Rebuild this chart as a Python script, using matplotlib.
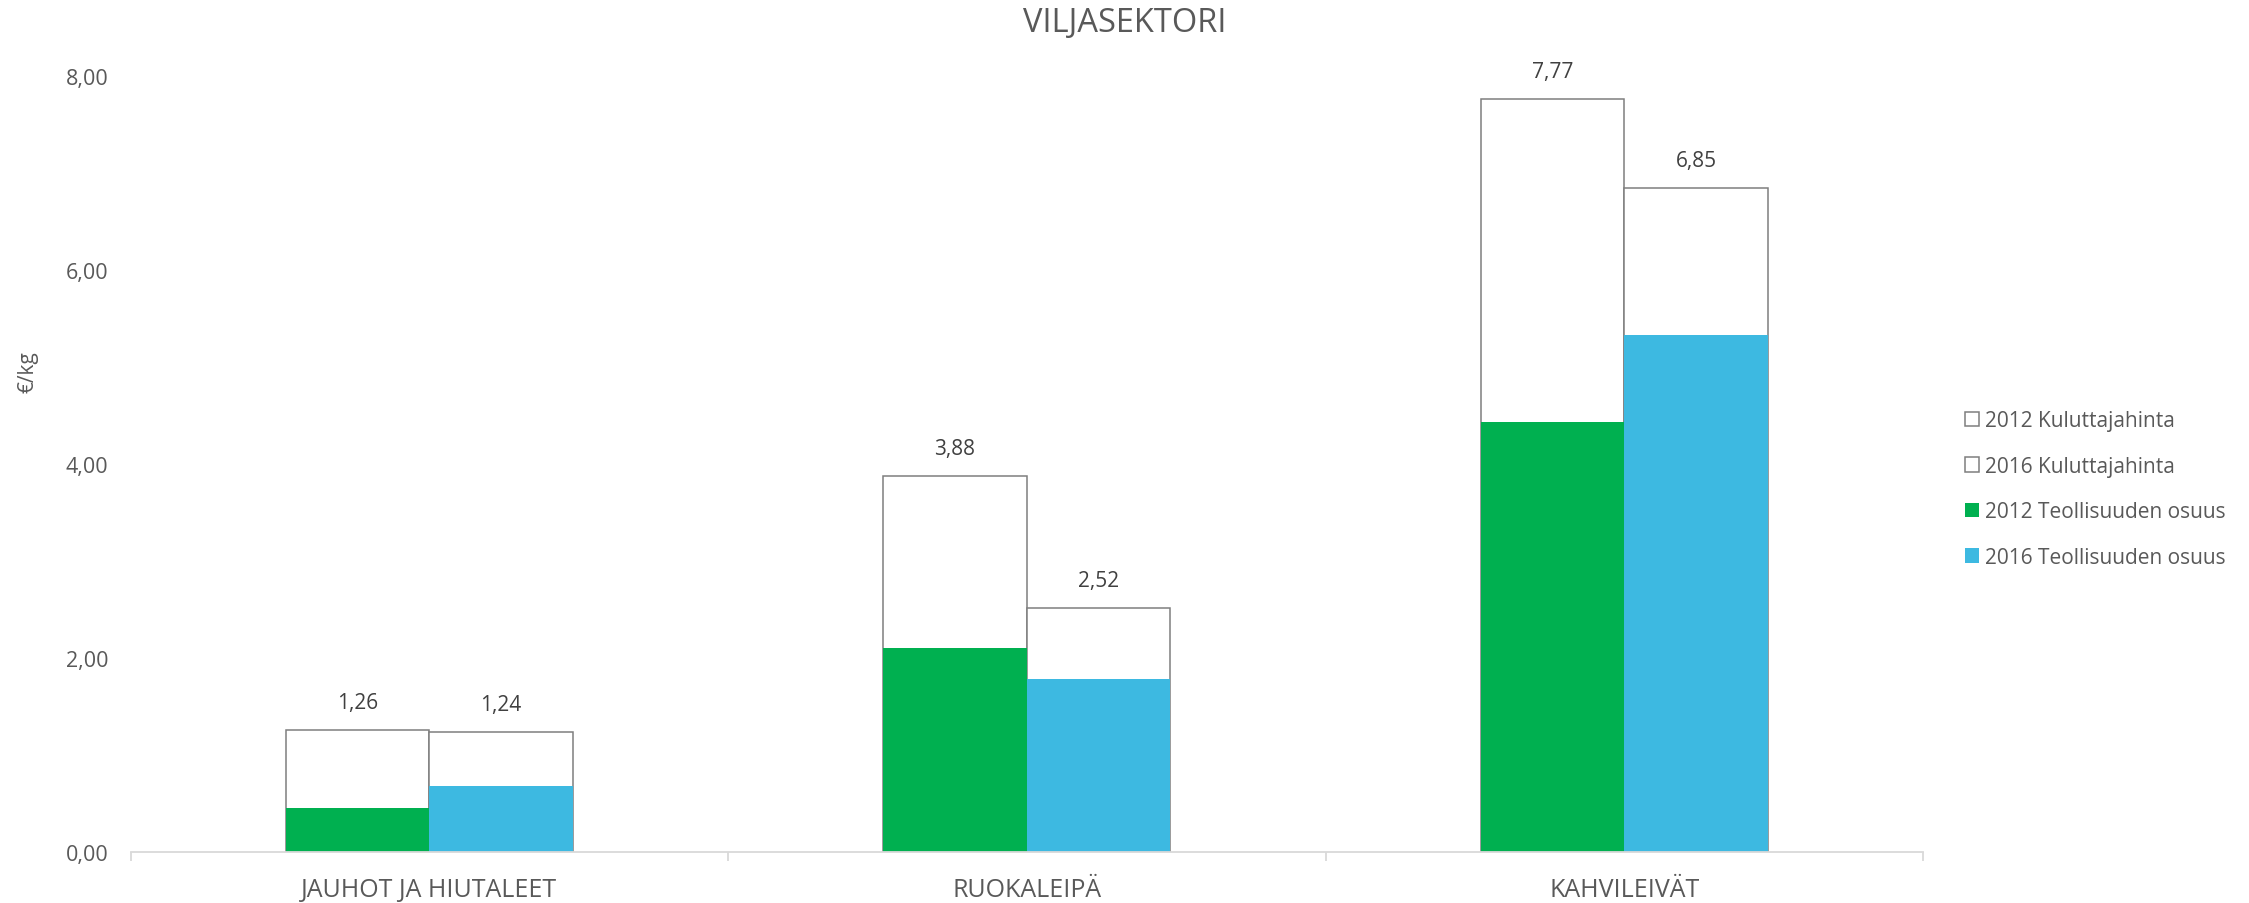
import numpy as np
import matplotlib.pyplot as plt
from matplotlib.patches import Patch
from matplotlib.ticker import FuncFormatter

# data (€/kg)
categories = ['JAUHOT JA HIUTALEET', 'RUOKALEIPÄ', 'KAHVILEIVÄT']
price_2012 = [1.26, 3.88, 7.77]
price_2016 = [1.24, 2.52, 6.85]
industry_2012 = [0.45, 2.10, 4.44]
industry_2016 = [0.68, 1.78, 5.33]
legend_labels = ['2012 Kuluttajahinta', '2016 Kuluttajahinta',
                 '2012 Teollisuuden osuus', '2016 Teollisuuden osuus']

GREEN = '#00B050'
BLUE = '#3DB9E1'
EDGE = '#7F7F7F'
TEXT = '#595959'

plt.rcParams['font.family'] = ['Open Sans', 'DejaVu Sans']


def fi(v, pos=None):
    return f'{v:.2f}'.replace('.', ',')


def plot_chart():
    fig = plt.figure(figsize=(22.49, 9.04), dpi=100)
    ax = fig.add_axes([130.5 / 2249, 51 / 904, (1923 - 130.5) / 2249, (853 - 77.4) / 904])

    x = np.arange(len(categories))
    w = 0.24

    b12 = ax.bar(x - w / 2, price_2012, w, color='white', edgecolor=EDGE, linewidth=1.1, zorder=2)
    b16 = ax.bar(x + w / 2, price_2016, w, color='white', edgecolor=EDGE, linewidth=1.1, zorder=2)
    ax.bar(x - w / 2, industry_2012, w, color=GREEN, linewidth=0, zorder=3)
    ax.bar(x + w / 2, industry_2016, w, color=BLUE, linewidth=0, zorder=3)

    for bars in (b12, b16):
        for r in bars:
            ax.annotate(fi(r.get_height()), (r.get_x() + r.get_width() / 2, r.get_height()),
                        xytext=(0, 19.5), textcoords='offset points', ha='center', va='center',
                        fontsize=15, color='#404040')

    ax.set_xlim(-0.5, len(categories) - 0.5)
    ax.set_ylim(0, 8)
    ax.set_yticks([0, 2, 4, 6, 8])
    ax.yaxis.set_major_formatter(FuncFormatter(fi))
    ax.tick_params(axis='y', length=0, pad=16, labelsize=15.5, labelcolor=TEXT)

    ax.set_xticks(x)
    ax.set_xticklabels(categories)
    ax.set_xticks(np.arange(-0.5, len(categories)), minor=True)
    ax.tick_params(axis='x', which='major', length=0, pad=18, labelsize=18, labelcolor=TEXT)
    ax.tick_params(axis='x', which='minor', length=6.5, width=1.3, color='#D9D9D9')

    for s in ('top', 'right', 'left'):
        ax.spines[s].set_visible(False)
    ax.spines['bottom'].set_color('#D9D9D9')
    ax.spines['bottom'].set_linewidth(1.3)
    ax.spines['bottom'].set_zorder(4)

    fig.text(0.5, 1 - 23 / 904, 'VILJASEKTORI', ha='center', va='center', fontsize=23.5, color=TEXT)
    fig.text(28 / 2249, 1 - 372 / 904, '€/kg', rotation=90, ha='center', va='center',
             fontsize=15, color=TEXT)

    handles = [Patch(facecolor='white', edgecolor=EDGE, linewidth=1.1),
               Patch(facecolor='white', edgecolor=EDGE, linewidth=1.1),
               Patch(facecolor=GREEN, linewidth=0),
               Patch(facecolor=BLUE, linewidth=0)]
    fig.legend(handles, legend_labels, loc='center left', bbox_to_anchor=(1965 / 2249, 1 - 490 / 904),
               frameon=False, fontsize=15, labelcolor=TEXT, handlelength=0.68, handleheight=0.68,
               handletextpad=0.3, labelspacing=1.18, borderpad=0, borderaxespad=0)

    fig.savefig('out.png', dpi=100)


if __name__ == '__main__':
    plot_chart()
